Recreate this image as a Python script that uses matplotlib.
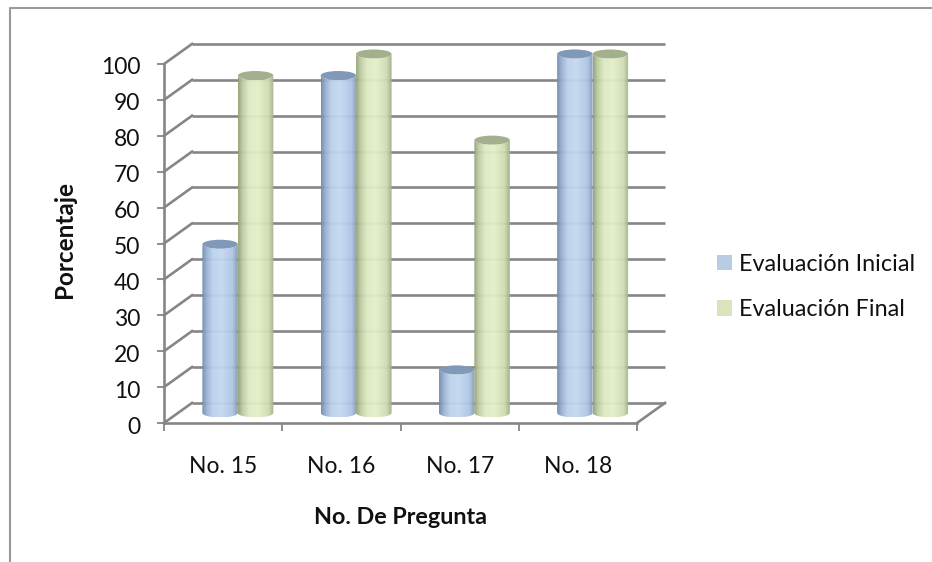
import numpy as np
import matplotlib
matplotlib.use("Agg")
import matplotlib.pyplot as plt
from matplotlib.colors import LinearSegmentedColormap
from matplotlib.lines import Line2D
from matplotlib.patches import Ellipse, Patch, PathPatch
from matplotlib.path import Path
from matplotlib.transforms import ScaledTranslation

plt.rcParams["font.family"] = ["Lato", "DejaVu Sans"]

categories = ["No. 15", "No. 16", "No. 17", "No. 18"]
inicial = [47, 94, 12, 100]
final = [94, 100, 76, 100]
series_names = ["Evaluación Inicial", "Evaluación Final"]
y_ticks = list(range(0, 101, 10))

GRID = "#868686"
FRAME = "#9a9a9a"
TEXT = "#111111"
DEPTH_X = 0.237   # wall offset in category units
DEPTH_Y = 5.6     # wall offset in percent units
BAR_W = 0.30
CAP_H = 1.25
BAR_SHIFT = 0.006

blue_ramp = LinearSegmentedColormap.from_list("blue", [
    (0.0, "#7189a9"), (0.12, "#97afcf"), (0.3, "#bcd2ec"), (0.55, "#c3d8f1"),
    (0.85, "#aec5e2"), (1.0, "#8199b8")])
green_ramp = LinearSegmentedColormap.from_list("green", [
    (0.0, "#929f76"), (0.12, "#bccaa0"), (0.3, "#dde9c2"), (0.55, "#e4f0c8"),
    (0.85, "#d0dcb2"), (1.0, "#a0ad88")])
blue_cap = "#8199b8"
green_cap = "#a3b08d"

W, H = 932, 562
fig = plt.figure(figsize=(W / 100, H / 100), dpi=100, facecolor="white")
ax = fig.add_axes([164 / W, 1 - 423 / H, 473 / W, 359 / H])
ax.set_xlim(0, 4)
ax.set_ylim(0, 100)
ax.set_facecolor("none")
for side in ("top", "right"):
    ax.spines[side].set_visible(False)
for side in ("left", "bottom"):
    ax.spines[side].set_color(GRID)
    ax.spines[side].set_linewidth(1.9)

# outer chart border, left and top only
fig.add_artist(Line2D([10 / W, 10 / W, 1], [0, 1 - 7.5 / H, 1 - 7.5 / H],
                      color=FRAME, lw=1.5, transform=fig.transFigure))

# back wall, side wall and floor of the 3D box
for v in y_ticks:
    ax.plot([DEPTH_X, 4 + DEPTH_X], [v + DEPTH_Y] * 2, color=GRID, lw=1.9,
            clip_on=False, zorder=1, solid_capstyle="butt")
    ax.plot([0, DEPTH_X], [v, v + DEPTH_Y], color=GRID, lw=1.9,
            clip_on=False, zorder=1)
ax.plot([4, 4 + DEPTH_X], [0, DEPTH_Y], color=GRID, lw=1.9, clip_on=False, zorder=1)


def cylinder(x_left, value, ramp, cap_color, z):
    """Draw one shaded cylinder standing at mid depth of the box."""
    x0 = x_left + DEPTH_X / 2 + BAR_SHIFT
    base = DEPTH_Y / 2
    top = value + DEPTH_Y / 2
    cx = x0 + BAR_W / 2
    t = np.linspace(np.pi, 2 * np.pi, 40)
    low = np.column_stack([cx + BAR_W / 2 * np.cos(t), base + CAP_H * np.sin(t)])
    high = np.column_stack([cx + BAR_W / 2 * np.cos(t[::-1]), top + CAP_H * np.sin(t[::-1])])
    outline = np.vstack([low, high, low[:1]])
    clip = PathPatch(Path(outline), transform=ax.transData, fc="none", ec="none")
    ax.add_patch(clip)
    clip.set_clip_on(False)
    shade = np.linspace(0, 1, 128).reshape(1, -1)
    img = ax.imshow(shade, cmap=ramp, aspect="auto", zorder=z, interpolation="bilinear",
                    alpha=0.95, extent=(x0, x0 + BAR_W, base - CAP_H, top + CAP_H))
    img.set_clip_box(fig.bbox)
    img.set_clip_path(clip)
    ax.add_patch(Ellipse((cx, top), BAR_W, 2 * CAP_H, fc=cap_color, ec="none",
                         zorder=z + 0.1, clip_on=False))


for i, (a, b) in enumerate(zip(inicial, final)):
    cylinder(i + 0.5 - BAR_W, a, blue_ramp, blue_cap, 3 + i)
    cylinder(i + 0.5, b, green_ramp, green_cap, 3.5 + i)

ax.set_xlim(0, 4)
ax.set_ylim(0, 100)

# ticks sit on category boundaries, labels at category centres
ax.set_xticks(range(5))
ax.set_xticklabels([])
ax.set_xticks(np.arange(len(categories)) + 0.5, categories, minor=True)
ax.tick_params(axis="x", which="major", length=5.8, width=1.3, color=GRID)
ax.tick_params(axis="x", which="minor", length=0, pad=24, labelsize=16.5, labelcolor=TEXT)
ax.set_yticks(y_ticks)
ax.tick_params(axis="y", length=5.2, width=1.3, color=GRID, pad=12, labelsize=16.5, labelcolor=TEXT)
nudge = ScaledTranslation(0, -2 / 100, fig.dpi_scale_trans)
for label in ax.get_yticklabels():
    label.set_transform(label.get_transform() + nudge)

fig.text(400 / W, 1 - 517 / H, "No. De Pregunta", fontsize=16.8, fontweight="bold",
         color=TEXT, ha="center", va="center")
fig.text(65 / W, 1 - 240 / H, "Porcentaje", fontsize=17.5, fontweight="bold",
         color=TEXT, ha="center", va="center", rotation=90)

handles = [Patch(fc="#b8cce4", ec="none"), Patch(fc="#d7e4bc", ec="none")]
fig.legend(handles, series_names, loc="center left", frameon=False, fontsize=16.8,
           labelcolor=TEXT, bbox_to_anchor=(717 / W, 1 - 287 / H), borderpad=0, borderaxespad=0,
           handlelength=0.65, handleheight=0.65, handletextpad=0.3, labelspacing=1.05)

fig.savefig("out.png", dpi=100)
